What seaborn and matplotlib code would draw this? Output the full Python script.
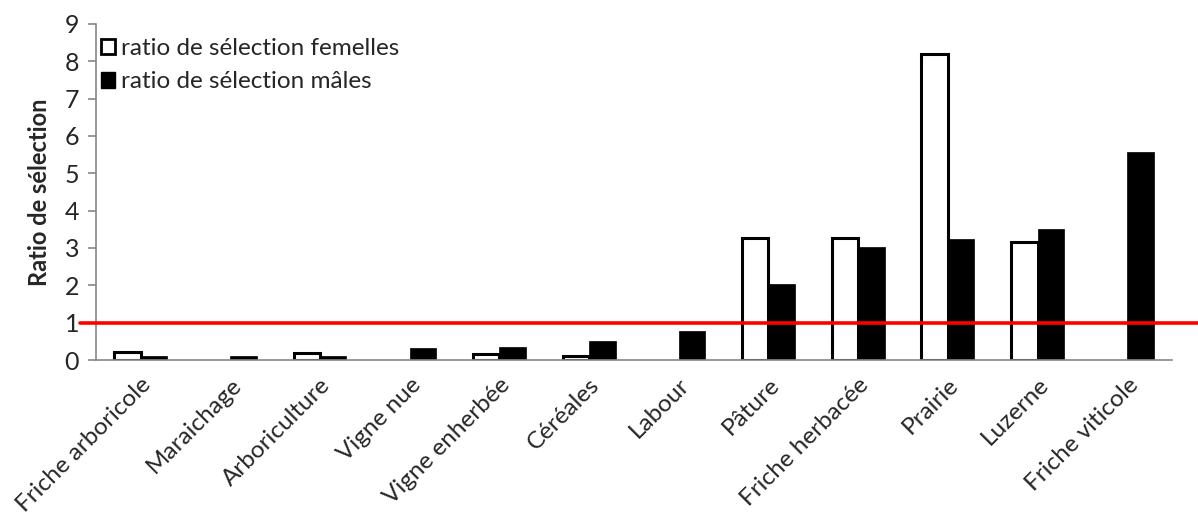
import numpy as np
import pandas as pd
import seaborn as sns
import matplotlib
matplotlib.use('Agg')
from matplotlib import pyplot as plt
from matplotlib.patches import Patch

categories = ['Friche arboricole', 'Maraichage', 'Arboriculture', 'Vigne nue',
              'Vigne enherbée', 'Céréales', 'Labour', 'Pâture',
              'Friche herbacée', 'Prairie', 'Luzerne', 'Friche viticole']
femelles = [0.22, np.nan, 0.18, np.nan, 0.15, 0.12, np.nan, 3.28, 3.27, 8.2, 3.16, np.nan]
males = [0.1, 0.1, 0.12, 0.32, 0.35, 0.5, 0.78, 2.03, 3.04, 3.24, 3.51, 5.56]
series = ['ratio de sélection femelles', 'ratio de sélection mâles']
y_ticks = list(range(0, 10))

df = pd.DataFrame({
    'cat': categories * 2,
    'val': femelles + males,
    'serie': [series[0]] * len(categories) + [series[1]] * len(categories),
})

sns.set_style('white')
plt.rcParams['font.family'] = ['Lato', 'DejaVu Sans']

fig = plt.figure(figsize=(11.98, 5.21), dpi=100)
ax = fig.add_axes([0.0799, 0.309, 0.8985, 0.645])

sns.barplot(data=df, x='cat', y='val', hue='serie', order=categories, hue_order=series,
            palette=['white', 'black'], errorbar=None, width=0.59, ax=ax, legend=False)

# style the bars: white ones with a thick black border, black ones plain
for bar_container, lw in zip(ax.containers, [2.2, 0.5]):
    for b in bar_container:
        b.set_edgecolor('black')
        b.set_linewidth(lw)

ax.set_ylim(0, 9)
ax.set_xlim(-0.5, len(categories) - 0.5)
ax.set_yticks(y_ticks)
ax.set_yticklabels([str(t) for t in y_ticks], fontsize=18)
ax.set_xticks(range(len(categories)))
ax.set_xticklabels(categories, rotation=45, ha='right', rotation_mode='anchor', fontsize=17.5)
ax.tick_params(axis='x', length=0, pad=10)
ax.set_xticks(np.arange(-0.5, len(categories)), minor=True)
ax.tick_params(axis='x', which='minor', length=7, color='#868686', width=1.2)
ax.tick_params(axis='y', length=6, color='#868686', width=1.2, left=True, pad=6)
ax.set_xlabel('')
ax.set_ylabel('Ratio de sélection', fontsize=17, fontweight='bold', labelpad=10)

for s in ['top', 'right']:
    ax.spines[s].set_visible(False)
for s in ['left', 'bottom']:
    ax.spines[s].set_color('#868686')
    ax.spines[s].set_linewidth(1.2)

# seuil de sélection = 1
ax.axhline(1, xmin=-0.015, xmax=1.03, color='#FF0000', lw=2.6, clip_on=False, zorder=5)

handles = [Patch(facecolor='white', edgecolor='black', linewidth=2),
           Patch(facecolor='black', edgecolor='black')]
ax.legend(handles, series, loc='upper left', bbox_to_anchor=(0.0, 0.972), frameon=False,
          fontsize=17.5, handlelength=0.6, handleheight=0.6, handletextpad=0.25,
          labelspacing=0.5, borderaxespad=0.0, borderpad=0.2)

plt.savefig('out.png', dpi=100)
